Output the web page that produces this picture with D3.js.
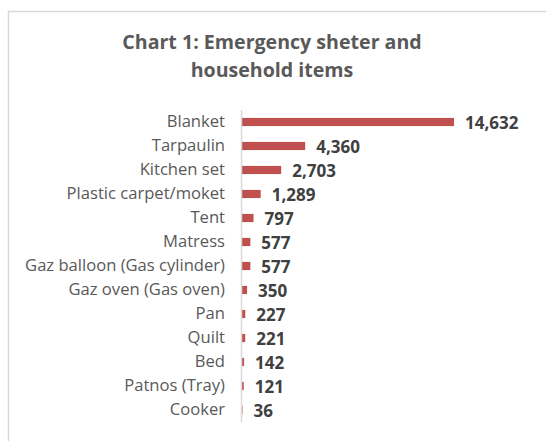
<!DOCTYPE html>
<meta charset="utf-8">
<html>
<head>
	<script src="https://d3js.org/d3.v7.min.js"></script>
	<style>
		body { margin: 0; background: #fff; }
	</style>
</head>
<body>
	<div id="chart"></div>
	<script>
		// Chart data
		var categories = ["Blanket", "Tarpaulin", "Kitchen set", "Plastic carpet/moket", "Tent", "Matress",
			"Gaz balloon (Gas cylinder)", "Gaz oven (Gas oven)", "Pan", "Quilt", "Bed", "Patnos (Tray)", "Cooker"];
		var values = [14632, 4360, 2703, 1289, 797, 577, 577, 350, 227, 221, 142, 121, 36];
		var titleLines = ["Chart 1: Emergency sheter and", "household items"];

		var W = 546, H = 441;
		var plot = {left: 242, top: 110, width: 212, height: 312};

		var svg = d3.select("#chart").append("svg")
			.attr("width", W)
			.attr("height", H);

		// Chart area border (runs off the right and bottom edge)
		svg.append("rect")
			.attr("x", 8.5)
			.attr("y", 11.5)
			.attr("width", 560)
			.attr("height", 450)
			.style("fill", "none")
			.style("stroke", "#d9d9d9")
			.style("stroke-width", 1.5);

		// Title
		svg.append("g").selectAll("text")
			.data(titleLines)
			.enter().append("text")
			.attr("x", 272)
			.attr("y", function(d, i) { return 49 + i * 28; })
			.attr("text-anchor", "middle")
			.style("font-family", "'Open Sans', sans-serif")
			.style("font-weight", "bold")
			.style("font-size", "19.6px")
			.style("fill", "#595959")
			.text(function(d) { return d; });

		var x = d3.scaleLinear()
			.domain([0, d3.max(values)])
			.range([0, plot.width]);

		var y = d3.scaleBand()
			.domain(categories)
			.range([0, plot.height])
			.paddingInner(0.66)
			.paddingOuter(0.33);

		var chart = svg.append("g")
			.attr("transform", "translate(" + plot.left + "," + plot.top + ")");

		var rows = categories.map(function(c, i) { return {key: c, value: values[i]}; });

		// Bars
		chart.selectAll("rect.bar")
			.data(rows)
			.enter().append("rect")
			.attr("class", "bar")
			.attr("x", 0)
			.attr("y", function(d) { return y(d.key); })
			.attr("width", function(d) { return x(d.value); })
			.attr("height", y.bandwidth())
			.style("fill", "#c0504d");

		// Value labels
		chart.selectAll("text.value")
			.data(rows)
			.enter().append("text")
			.attr("class", "value")
			.attr("x", function(d) { return x(d.value) + 11; })
			.attr("y", function(d) { return y(d.key) + y.bandwidth() / 2; })
			.attr("dy", "0.42em")
			.style("font-family", "'Open Sans', sans-serif")
			.style("font-weight", "bold")
			.style("font-size", "17px")
			.style("fill", "#404040")
			.text(function(d) { return d3.format(",")(d.value); });

		// Category axis
		var axis = chart.append("g")
			.call(d3.axisLeft(y).tickSize(0).tickPadding(17));
		axis.select(".domain")
			.attr("d", "M-0.5,0V" + plot.height)
			.style("stroke", "#d9d9d9")
			.style("stroke-width", 1.5);
		axis.selectAll("text")
			.attr("dy", "0.32em")
			.style("font-family", "'Open Sans', sans-serif")
			.style("font-size", "16.6px")
			.style("fill", "#595959");
	</script>
</body>
</html>
